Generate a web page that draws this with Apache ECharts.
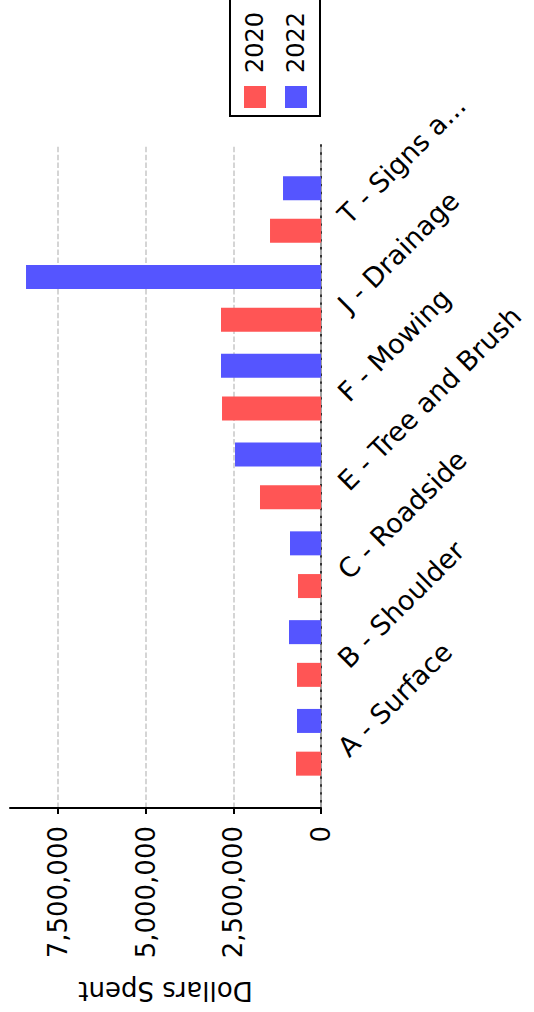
<!DOCTYPE html>
<html>
<head>
<meta charset="utf-8">
<script src="https://cdn.jsdelivr.net/npm/echarts@6/dist/echarts.min.js"></script>
<style>
  html, body { margin: 0; padding: 0; background: #fff; overflow: hidden; }
  #page { width: 534px; height: 1012px; position: relative; overflow: hidden; }
  /* chart is laid out landscape, then turned a quarter to the left */
  #chart {
    position: absolute; left: 0; top: 0;
    width: 1012px; height: 534px;
    transform-origin: 0 0;
    transform: translateY(1012px) rotate(-90deg);
  }
</style>
</head>
<body>
<div id="page"><div id="chart"></div></div>
<script>
// 数据
var categories = ['A - Surface', 'B - Shoulder', 'C - Roadside', 'E - Tree and Brush', 'F - Mowing', 'J - Drainage', 'T - Signs a...'];
var spend2020 = [713000, 685000, 656000, 1741000, 2825000, 2854000, 1455000];
var spend2022 = [685000, 913000, 885000, 2454000, 2854000, 8419000, 1084000];
var valueTicks = [0, 2500000, 5000000, 7500000];
var valueMax = 8876000;

var font = 'DejaVu Sans';
var chart = echarts.init(document.getElementById('chart'), null, { renderer: 'svg' });

var option = {
    animation: false,
    backgroundColor: '#fff',
    legend: {
        data: ['2020', '2022'],
        orient: 'vertical',
        left: 896,
        top: 230,
        padding: [13, 40, 12, 8],
        itemWidth: 22,
        itemHeight: 22,
        itemGap: 17,
        icon: 'rect',
        borderColor: '#000',
        borderWidth: 2,
        borderRadius: 0,
        textStyle: { fontFamily: font, fontSize: 24, color: '#000', padding: [0, 0, 0, 8] }
    },
    grid: [
        // 外框: 网格线和数值轴
        { left: 203, top: 10, width: 664, height: 311 },
        // 柱子所在的区域
        { left: 225.3, top: 10, width: 621.6, height: 311 }
    ],
    xAxis: [
        {
            type: 'value', gridIndex: 0, min: 0, max: 1, z: 0,
            axisLine: { show: true, lineStyle: { color: '#333', width: 2 } },
            axisTick: { show: false },
            axisLabel: { show: false },
            splitLine: { show: false }
        },
        {
            type: 'category', gridIndex: 1, data: categories,
            axisLine: { show: false },
            axisTick: { show: false },
            axisLabel: {
                rotate: -45, align: 'left', verticalAlign: 'top', margin: 12,
                interval: 0, fontFamily: font, fontSize: 27, color: '#000'
            }
        }
    ],
    yAxis: [
        {
            type: 'value', gridIndex: 0, min: 0, max: valueMax, z: 1,
            name: 'Dollars Spent', nameLocation: 'middle', nameRotate: 90, nameGap: 170,
            nameTextStyle: { fontFamily: font, fontSize: 26, color: '#000' },
            axisLine: { show: true, lineStyle: { color: '#000', width: 2 } },
            axisTick: { show: true, length: 6, customValues: valueTicks, lineStyle: { color: '#000', width: 2 } },
            axisLabel: {
                customValues: valueTicks, margin: 18,
                fontFamily: font, fontSize: 26, color: '#000',
                formatter: function (v) { return v.toLocaleString('en-US'); }
            },
            splitLine: {
                show: true,
                lineStyle: { color: '#c8c8c8', width: 1.5, type: [5.5, 2.4] }
            }
        },
        {
            type: 'value', gridIndex: 1, min: 0, max: valueMax, show: false
        }
    ],
    series: [
        {
            name: '2020', type: 'bar', xAxisIndex: 1, yAxisIndex: 1,
            data: spend2020, barWidth: 24, barGap: '78%',
            itemStyle: { color: '#ff5555' }
        },
        {
            name: '2022', type: 'bar', xAxisIndex: 1, yAxisIndex: 1,
            data: spend2022, barWidth: 24, barGap: '78%',
            itemStyle: { color: '#5555ff' }
        }
    ]
};
chart.setOption(option);
</script>
</body>
</html>
